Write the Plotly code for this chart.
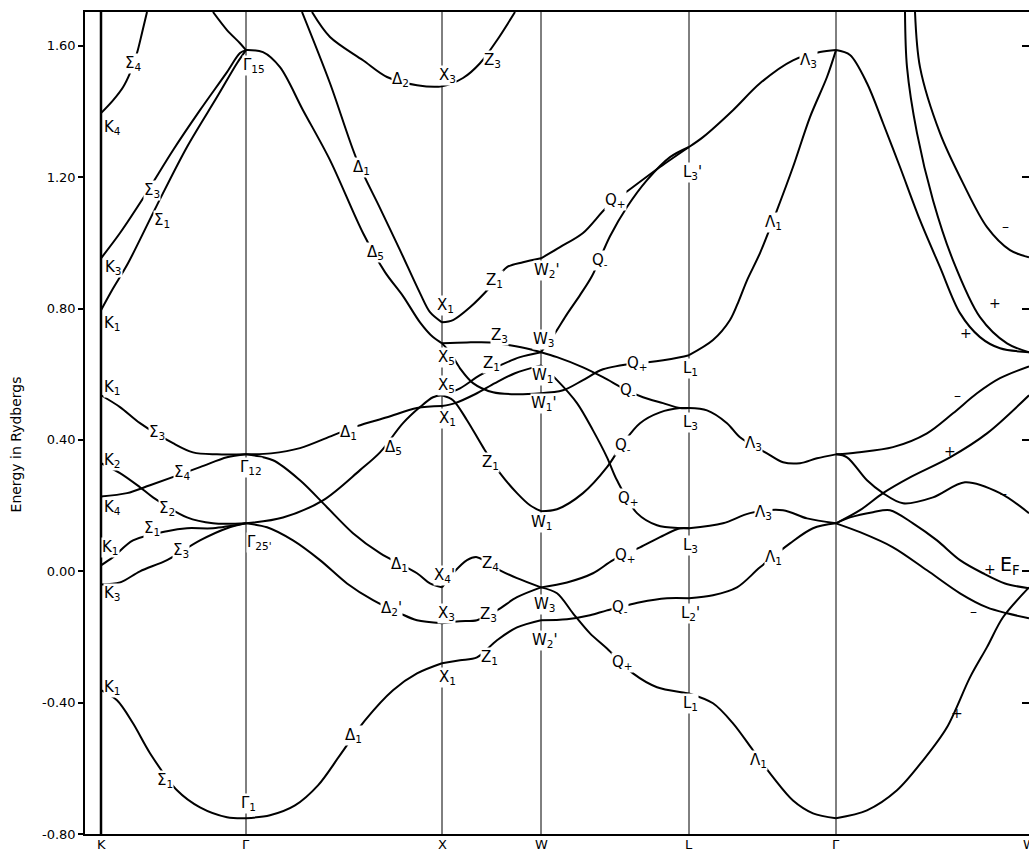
import plotly.graph_objects as go

# ---- symmetry points along the k path (arbitrary path units) ----
sym_names = ["K", "Γ", "X", "W", "L", "Γ", "W"]
sym_k = [0, 145, 341, 440, 588, 735, 928]

# ---- energy axis ----
E_ticks = [-0.80, -0.40, 0.00, 0.40, 0.80, 1.20, 1.60]
E_ticktext = ["-0.80", "-0.40", "0.00", "0.40", "0.80", "1.20", "1.60"]
E_min, E_max = -0.80, 1.703

# ---------------- bands (k, Energy in Ry) ----------------
# K - Gamma
kg_sig4_top_k = [0, 12, 22, 29, 36, 41, 46]
kg_sig4_top_E = [1.395, 1.434, 1.474, 1.517, 1.578, 1.639, 1.703]
kg_sig3_up_k = [0, 19, 44, 72, 99, 126, 139, 145]
kg_sig3_up_E = [0.953, 1.030, 1.145, 1.282, 1.404, 1.520, 1.578, 1.587]
kg_sig1_up_k = [0, 11, 27, 56, 86, 116, 136, 145]
kg_sig1_up_E = [0.795, 0.856, 0.938, 1.115, 1.292, 1.444, 1.547, 1.587]
kg_top_k = [112, 126, 139, 145]
kg_top_E = [1.703, 1.648, 1.608, 1.587]
kg_sig3_mid_k = [0, 19, 39, 72, 92, 116, 145]
kg_sig3_mid_E = [0.536, 0.500, 0.451, 0.390, 0.362, 0.356, 0.356]
kg_sig4_mid_k = [0, 26, 49, 99, 126, 145]
kg_sig4_mid_E = [0.228, 0.238, 0.262, 0.317, 0.347, 0.356]
kg_sig2_k = [0, 19, 39, 52, 86, 112, 145]
kg_sig2_E = [0.329, 0.299, 0.256, 0.225, 0.164, 0.146, 0.146]
kg_sig1_mid_k = [0, 12, 32, 66, 86, 112, 145]
kg_sig1_mid_E = [0.018, 0.043, 0.094, 0.122, 0.131, 0.131, 0.146]
kg_sig3_low_k = [0, 19, 39, 66, 99, 126, 145]
kg_sig3_low_E = [-0.040, -0.034, 0.000, 0.034, 0.094, 0.131, 0.146]
kg_sig1_bot_k = [0, 16, 32, 49, 76, 99, 126, 145]
kg_sig1_bot_E = [-0.362, -0.393, -0.463, -0.554, -0.667, -0.719, -0.749, -0.752]

# Gamma - X
gx_d1_top_k = [201, 229, 256, 279, 299, 319, 329, 341]
gx_d1_top_E = [1.703, 1.486, 1.252, 1.106, 0.978, 0.847, 0.789, 0.758]
gx_d5_top_k = [145, 162, 179, 202, 229, 262, 284, 302, 319, 332, 341]
gx_d5_top_E = [1.587, 1.581, 1.535, 1.404, 1.252, 1.030, 0.911, 0.838, 0.758, 0.713, 0.694]
gx_d2_z3_k = [211, 229, 262, 286, 316, 341, 362, 379, 396, 414]
gx_d2_z3_E = [1.703, 1.627, 1.556, 1.505, 1.480, 1.477, 1.502, 1.547, 1.617, 1.703]
gx_d1_mid_k = [145, 170, 199, 232, 256, 286, 316, 341]
gx_d1_mid_E = [0.356, 0.359, 0.375, 0.414, 0.442, 0.469, 0.497, 0.503]
gx_d1_low_k = [145, 172, 199, 226, 252, 279, 316, 329, 341]
gx_d1_low_E = [0.356, 0.338, 0.277, 0.195, 0.116, 0.055, -0.006, -0.037, -0.049]
gx_d5_low_k = [145, 182, 222, 259, 279, 302, 319, 332, 341]
gx_d5_low_E = [0.146, 0.164, 0.216, 0.308, 0.362, 0.451, 0.500, 0.530, 0.536]
gx_d2p_k = [145, 166, 192, 219, 246, 272, 299, 316, 341]
gx_d2p_E = [0.146, 0.134, 0.094, 0.034, -0.037, -0.088, -0.128, -0.149, -0.158]
gx_d1_bot_k = [145, 169, 194, 217, 239, 264, 292, 316, 341]
gx_d1_bot_E = [-0.752, -0.743, -0.713, -0.652, -0.560, -0.454, -0.362, -0.311, -0.280]

# X - W
xw_z1_top_k = [341, 352, 369, 389, 406, 422, 440]
xw_z1_top_E = [0.758, 0.765, 0.804, 0.865, 0.926, 0.941, 0.953]
xw_z3_k = [341, 366, 389, 409, 429, 440]
xw_z3_E = [0.694, 0.697, 0.697, 0.688, 0.676, 0.667]
xw_z1_desc_k = [341, 349, 359, 372, 392, 416, 440]
xw_z1_desc_E = [0.694, 0.667, 0.618, 0.573, 0.545, 0.539, 0.542]
xw_rise_a_k = [341, 359, 379, 399, 419, 440]
xw_rise_a_E = [0.536, 0.557, 0.597, 0.627, 0.652, 0.667]
xw_rise_b_k = [341, 354, 374, 394, 414, 440]
xw_rise_b_E = [0.503, 0.512, 0.539, 0.573, 0.603, 0.627]
xw_z1_low_k = [341, 352, 366, 382, 399, 416, 429, 440]
xw_z1_low_E = [0.536, 0.521, 0.460, 0.378, 0.299, 0.238, 0.201, 0.183]
xw_z4_k = [341, 352, 366, 376, 399, 416, 440]
xw_z4_E = [-0.049, -0.006, 0.034, 0.043, 0.003, -0.021, -0.049]
xw_z3_low_k = [341, 359, 376, 396, 416, 440]
xw_z3_low_E = [-0.158, -0.152, -0.149, -0.119, -0.079, -0.049]
xw_z1_bot_k = [341, 359, 376, 396, 416, 440]
xw_z1_bot_E = [-0.280, -0.271, -0.262, -0.210, -0.171, -0.149]

# W - L
wl_qp_top_k = [440, 459, 482, 506, 532, 559, 588]
wl_qp_top_E = [0.953, 0.987, 1.030, 1.109, 1.170, 1.231, 1.292]
wl_qm_top_k = [440, 454, 466, 479, 491, 509, 526, 546, 569, 588]
wl_qm_top_E = [0.667, 0.725, 0.783, 0.841, 0.899, 1.020, 1.109, 1.191, 1.261, 1.292]
wl_qm_mid_k = [440, 456, 482, 502, 526, 542, 562, 579, 588]
wl_qm_mid_E = [0.667, 0.652, 0.621, 0.591, 0.551, 0.530, 0.512, 0.497, 0.497]
wl_qp_mid_k = [440, 462, 482, 502, 536, 549, 579, 588]
wl_qp_mid_E = [0.542, 0.551, 0.582, 0.615, 0.634, 0.637, 0.652, 0.658]
wl_qm_low1_k = [440, 456, 482, 506, 522, 539, 559, 579, 588]
wl_qm_low1_E = [0.183, 0.189, 0.238, 0.317, 0.390, 0.451, 0.484, 0.497, 0.497]
wl_qp_low1_k = [440, 456, 476, 492, 506, 516, 536, 556, 579, 588]
wl_qp_low1_E = [0.627, 0.582, 0.512, 0.429, 0.347, 0.277, 0.177, 0.140, 0.131, 0.131]
wl_qp_low2_k = [440, 466, 492, 512, 539, 559, 579, 588]
wl_qp_low2_E = [-0.049, -0.034, -0.006, 0.034, 0.073, 0.104, 0.131, 0.131]
wl_qm_low2_k = [440, 466, 489, 506, 539, 566, 588]
wl_qm_low2_E = [-0.149, -0.146, -0.134, -0.119, -0.094, -0.082, -0.082]
wl_qp_low3_k = [440, 456, 472, 489, 506, 532, 556, 582, 588]
wl_qp_low3_E = [-0.049, -0.067, -0.128, -0.189, -0.235, -0.311, -0.353, -0.369, -0.372]

# L - Gamma
lg_l3p_k = [588, 602, 632, 659, 692, 719, 735]
lg_l3p_E = [1.292, 1.322, 1.404, 1.486, 1.556, 1.581, 1.587]
lg_l1_top_k = [588, 612, 629, 638, 646, 659, 676, 692, 709, 726, 735]
lg_l1_top_E = [0.658, 0.704, 0.765, 0.825, 0.886, 0.969, 1.100, 1.231, 1.383, 1.505, 1.587]
lg_l3_mid_k = [588, 606, 626, 639, 666, 682, 699, 716, 735]
lg_l3_mid_E = [0.497, 0.490, 0.451, 0.408, 0.359, 0.332, 0.329, 0.344, 0.356]
lg_l3_low_k = [588, 622, 649, 682, 706, 735]
lg_l3_low_E = [0.131, 0.146, 0.177, 0.186, 0.161, 0.146]
lg_l2p_k = [588, 612, 636, 659, 689, 712, 735]
lg_l2p_E = [-0.082, -0.073, -0.049, 0.012, 0.085, 0.131, 0.146]
lg_l1_low_k = [588, 612, 632, 652, 672, 692, 712, 735]
lg_l1_low_E = [-0.372, -0.402, -0.463, -0.545, -0.627, -0.698, -0.737, -0.752]

# Gamma - W
gw_g15_k = [735, 749, 766, 782, 799, 819, 839, 859, 879, 899, 928]
gw_g15_E = [1.587, 1.572, 1.486, 1.365, 1.231, 1.069, 0.926, 0.786, 0.713, 0.679, 0.667]
gw_top_a_k = [804, 806, 816, 832, 852, 879, 906, 928]
gw_top_a_E = [1.703, 1.535, 1.334, 1.130, 0.947, 0.774, 0.694, 0.667]
gw_top_b_k = [814, 819, 839, 862, 886, 909, 928]
gw_top_b_E = [1.703, 1.535, 1.334, 1.182, 1.048, 0.978, 0.956]
gw_g12_up_k = [735, 756, 792, 826, 852, 876, 899, 928]
gw_g12_up_E = [0.356, 0.362, 0.378, 0.420, 0.481, 0.542, 0.588, 0.624]
gw_g12_dn_k = [735, 746, 766, 782, 802, 832, 864, 899, 928]
gw_g12_dn_E = [0.356, 0.347, 0.277, 0.238, 0.207, 0.225, 0.271, 0.238, 0.177]
gw_g25_a_k = [735, 759, 782, 809, 849, 886, 928]
gw_g25_a_E = [0.146, 0.186, 0.238, 0.286, 0.347, 0.420, 0.536]
gw_g25_b_k = [735, 749, 772, 789, 812, 836, 859, 882, 904, 928]
gw_g25_b_E = [0.146, 0.164, 0.180, 0.186, 0.146, 0.094, 0.034, -0.006, -0.037, -0.052]
gw_g25_c_k = [735, 759, 792, 826, 859, 886, 906, 928]
gw_g25_c_E = [0.146, 0.119, 0.073, 0.003, -0.067, -0.110, -0.128, -0.143]
gw_g1_k = [735, 766, 796, 822, 846, 869, 886, 902, 928]
gw_g1_E = [-0.752, -0.728, -0.667, -0.576, -0.475, -0.323, -0.231, -0.140, -0.049]

bands = [
    (kg_sig4_top_k, kg_sig4_top_E), (kg_sig3_up_k, kg_sig3_up_E), (kg_sig1_up_k, kg_sig1_up_E),
    (kg_top_k, kg_top_E), (kg_sig3_mid_k, kg_sig3_mid_E), (kg_sig4_mid_k, kg_sig4_mid_E),
    (kg_sig2_k, kg_sig2_E), (kg_sig1_mid_k, kg_sig1_mid_E), (kg_sig3_low_k, kg_sig3_low_E),
    (kg_sig1_bot_k, kg_sig1_bot_E),
    (gx_d1_top_k, gx_d1_top_E), (gx_d5_top_k, gx_d5_top_E), (gx_d2_z3_k, gx_d2_z3_E),
    (gx_d1_mid_k, gx_d1_mid_E), (gx_d1_low_k, gx_d1_low_E), (gx_d5_low_k, gx_d5_low_E),
    (gx_d2p_k, gx_d2p_E), (gx_d1_bot_k, gx_d1_bot_E),
    (xw_z1_top_k, xw_z1_top_E), (xw_z3_k, xw_z3_E), (xw_z1_desc_k, xw_z1_desc_E),
    (xw_rise_a_k, xw_rise_a_E), (xw_rise_b_k, xw_rise_b_E), (xw_z1_low_k, xw_z1_low_E),
    (xw_z4_k, xw_z4_E), (xw_z3_low_k, xw_z3_low_E), (xw_z1_bot_k, xw_z1_bot_E),
    (wl_qp_top_k, wl_qp_top_E), (wl_qm_top_k, wl_qm_top_E), (wl_qm_mid_k, wl_qm_mid_E),
    (wl_qp_mid_k, wl_qp_mid_E), (wl_qm_low1_k, wl_qm_low1_E), (wl_qp_low1_k, wl_qp_low1_E),
    (wl_qp_low2_k, wl_qp_low2_E), (wl_qm_low2_k, wl_qm_low2_E), (wl_qp_low3_k, wl_qp_low3_E),
    (lg_l3p_k, lg_l3p_E), (lg_l1_top_k, lg_l1_top_E), (lg_l3_mid_k, lg_l3_mid_E),
    (lg_l3_low_k, lg_l3_low_E), (lg_l2p_k, lg_l2p_E), (lg_l1_low_k, lg_l1_low_E),
    (gw_g15_k, gw_g15_E), (gw_top_a_k, gw_top_a_E), (gw_top_b_k, gw_top_b_E),
    (gw_g12_up_k, gw_g12_up_E), (gw_g12_dn_k, gw_g12_dn_E), (gw_g25_a_k, gw_g25_a_E),
    (gw_g25_b_k, gw_g25_b_E), (gw_g25_c_k, gw_g25_c_E), (gw_g1_k, gw_g1_E),
]

# ---------------- state labels (text, k, E) ----------------
label_text = [
    "Σ<sub>4</sub>", "K<sub>4</sub>", "Σ<sub>3</sub>", "Σ<sub>1</sub>", "K<sub>3</sub>", "K<sub>1</sub>",
    "K<sub>1</sub>", "Σ<sub>3</sub>", "K<sub>2</sub>", "Σ<sub>4</sub>", "K<sub>4</sub>", "Σ<sub>2</sub>",
    "Σ<sub>1</sub>", "K<sub>1</sub>", "Σ<sub>3</sub>", "K<sub>3</sub>", "K<sub>1</sub>", "Σ<sub>1</sub>",
    "Γ<sub>1</sub>", "Γ<sub>15</sub>", "Γ<sub>12</sub>", "Γ<sub>25'</sub>",
    "Δ<sub>2</sub>", "X<sub>3</sub>", "Z<sub>3</sub>", "Δ<sub>1</sub>", "Δ<sub>5</sub>", "Z<sub>1</sub>",
    "W<sub>2</sub>'", "X<sub>1</sub>", "Z<sub>3</sub>", "W<sub>3</sub>", "X<sub>5</sub>", "Z<sub>1</sub>",
    "W<sub>1</sub>", "X<sub>5</sub>", "W<sub>1</sub>'", "X<sub>1</sub>", "Δ<sub>1</sub>", "Δ<sub>5</sub>",
    "Z<sub>1</sub>", "W<sub>1</sub>", "Δ<sub>1</sub>", "X<sub>4</sub>'", "Z<sub>4</sub>", "Δ<sub>2</sub>'",
    "X<sub>3</sub>", "Z<sub>3</sub>", "W<sub>3</sub>", "W<sub>2</sub>'", "Z<sub>1</sub>", "X<sub>1</sub>",
    "Δ<sub>1</sub>",
    "Q<sub>+</sub>", "L<sub>3</sub>'", "Q<sub>-</sub>", "Q<sub>+</sub>", "L<sub>1</sub>", "Q<sub>-</sub>",
    "L<sub>3</sub>", "Q<sub>-</sub>", "Q<sub>+</sub>", "Q<sub>+</sub>", "L<sub>3</sub>", "Q<sub>-</sub>",
    "L<sub>2</sub>'", "Q<sub>+</sub>", "L<sub>1</sub>",
    "Λ<sub>3</sub>", "Λ<sub>1</sub>", "Λ<sub>3</sub>", "Λ<sub>3</sub>", "Λ<sub>1</sub>", "Λ<sub>1</sub>",
]
label_k = [
    32, 11, 51, 61, 12, 11,
    11, 56, 11, 81, 11, 66,
    51, 9, 80, 11, 11, 64,
    147, 153, 150, 158,
    299, 346, 391, 260, 274, 393,
    446, 344, 398, 443, 345, 390,
    442, 345, 443, 346, 247, 292,
    389, 441, 298, 343, 389, 290,
    345, 387, 444, 444, 388, 346,
    252,
    514, 591, 499, 536, 589, 527,
    589, 522, 527, 524, 589, 519,
    589, 521, 589,
    707, 672, 652, 662, 672, 657,
]
label_E = [
    1.547, 1.352, 1.161, 1.069, 0.926, 0.755,
    0.560, 0.423, 0.338, 0.302, 0.195, 0.192,
    0.131, 0.073, 0.064, -0.067, -0.353, -0.637,
    -0.707, 1.541, 0.317, 0.088,
    1.496, 1.511, 1.556, 1.228, 0.972, 0.886,
    0.917, 0.810, 0.719, 0.707, 0.652, 0.634,
    0.597, 0.567, 0.512, 0.466, 0.423, 0.378,
    0.332, 0.149, 0.021, -0.012, 0.024, -0.113,
    -0.128, -0.131, -0.101, -0.210, -0.262, -0.323,
    -0.500,
    1.130, 1.215, 0.947, 0.634, 0.618, 0.551,
    0.454, 0.384, 0.222, 0.049, 0.079, -0.110,
    -0.128, -0.277, -0.402,
    1.556, 1.063, 0.390, 0.180, 0.043, -0.576,
]

# parity signs along Gamma - W
sign_text = ["–", "+", "+", "–", "+", "–", "+", "–", "+"]
sign_k = [904, 894, 865, 856, 849, 902, 889, 872, 856]
sign_E = [1.051, 0.816, 0.725, 0.536, 0.366, 0.238, 0.006, -0.122, -0.433]

# Fermi level marker
fermi_k, fermi_E = 897, 0.018

FONT = "DejaVu Sans"

fig = go.Figure()
for k, E in bands:
    fig.add_trace(go.Scatter(
        x=k, y=E, mode="lines",
        line=dict(color="black", width=2, shape="spline", smoothing=0.9),
        hoverinfo="skip", showlegend=False))

# dummy trace for the right-hand tick axis
fig.add_trace(go.Scatter(x=[None], y=[None], yaxis="y2", showlegend=False, hoverinfo="skip"))

# vertical lines at symmetry points
for i, k in enumerate(sym_k[:-1]):
    fig.add_shape(type="line", xref="x", yref="y", x0=k, x1=k, y0=E_min, y1=E_max,
                  line=dict(color="black", width=2.5 if i == 0 else 1), layer="below")

annotations = []
for t, k, e in zip(label_text, label_k, label_E):
    annotations.append(dict(x=k, y=e, xref="x", yref="y", text=t, showarrow=False,
                            font=dict(family=FONT, size=15, color="black"),
                            bgcolor="white", borderpad=0, xanchor="center", yanchor="middle"))
for t, k, e in zip(sign_text, sign_k, sign_E):
    annotations.append(dict(x=k, y=e, xref="x", yref="y", text=t, showarrow=False,
                            font=dict(family=FONT, size=14, color="black"),
                            xanchor="center", yanchor="middle"))
annotations.append(dict(x=fermi_k, y=fermi_E, xref="x", yref="y",
                        text="E<sub>F</sub>", showarrow=False,
                        font=dict(family=FONT, size=19, color="black"),
                        xanchor="left", yanchor="middle"))
annotations.append(dict(x=-0.073, y=0.474, xref="paper", yref="paper",
                        text="Energy in Rydbergs", textangle=-90, showarrow=False,
                        font=dict(family=FONT, size=14, color="black"),
                        xanchor="center", yanchor="middle"))
# k-path point names under the axis
for name, k in zip(sym_names, sym_k):
    annotations.append(dict(x=k, y=0, xref="x", yref="paper", text=name, showarrow=False,
                            font=dict(family=FONT, size=13, color="black"),
                            xanchor="center", yanchor="middle", yshift=-10, borderpad=0))

fig.update_layout(
    width=1029, height=851,
    margin=dict(l=85, r=0, t=12, b=17),
    paper_bgcolor="white", plot_bgcolor="white",
    template="none",
    showlegend=False,
    annotations=annotations,
    xaxis=dict(range=[-16, 928], showticklabels=False, ticks="",
               showline=True, linecolor="black", linewidth=2, mirror=True,
               showgrid=False, zeroline=False),
    yaxis=dict(range=[E_min, E_max], tickvals=E_ticks, ticktext=E_ticktext,
               ticks="outside", ticklen=5, tickwidth=1.5, tickcolor="black",
               showline=True, linecolor="black", linewidth=1.5,
               showgrid=False, zeroline=False,
               tickfont=dict(family=FONT, size=13, color="black")),
    yaxis2=dict(range=[E_min, E_max], overlaying="y", side="right",
                tickvals=E_ticks[1:], ticks="inside", ticklen=7, tickwidth=1.5,
                tickcolor="black", showticklabels=False, showline=False,
                showgrid=False, zeroline=False),
)

fig.write_html("out.html", config={"displayModeBar": False},
               post_script="document.body.style.margin='0px';document.body.style.overflow='hidden';")
